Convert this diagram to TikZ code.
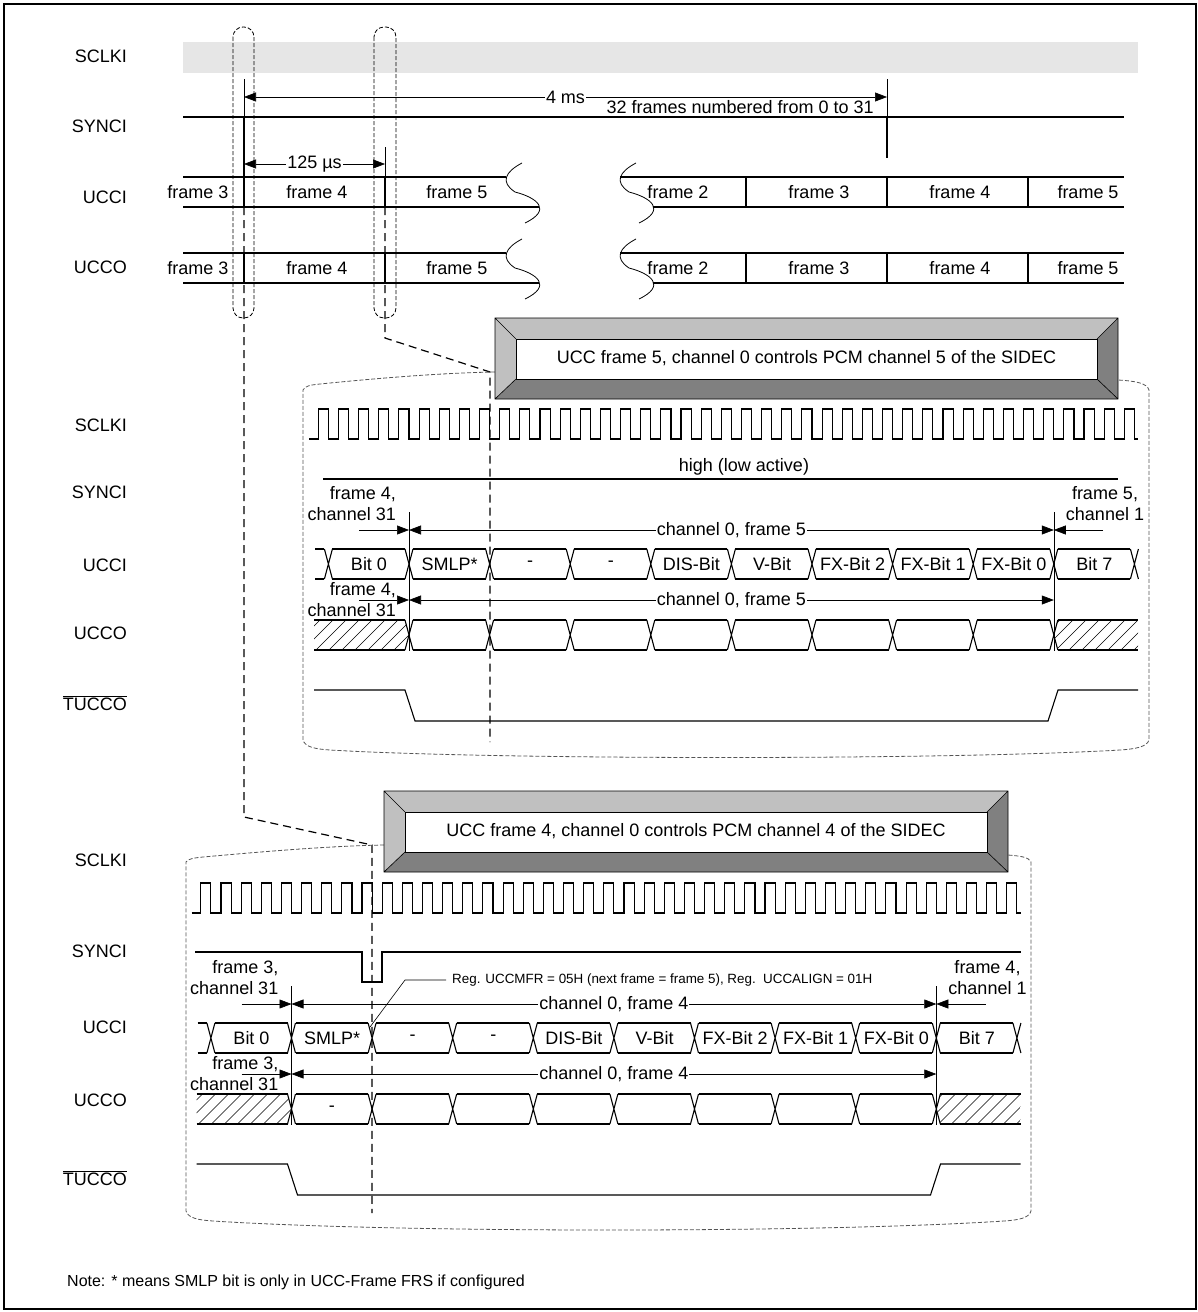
\documentclass[tikz,border=0pt]{standalone}
\usepackage{fontspec}
\setmainfont{Liberation Sans}
\usetikzlibrary{arrows.meta}
\newcommand\labfont{\fontsize{18}{21}\selectfont}
\newcommand\regfont{\fontsize{13.4}{15}\selectfont}
\newcommand\notefont{\fontsize{16}{19}\selectfont}
\definecolor{bevlight}{HTML}{C0C0C0}
\definecolor{bevdark}{HTML}{808080}
\definecolor{sclkgray}{HTML}{E6E6E6}
\definecolor{outlgray}{HTML}{555555}
\tikzset{
  sig/.style={line width=1.1pt},
  dimline/.style={line width=0.6pt},
  dimarr/.style={dimline,-{Triangle[length=12pt,width=9pt]}},
  dimboth/.style={dimline,{Triangle[length=12pt,width=9pt]}-{Triangle[length=12pt,width=9pt]}},
  conn/.style={line width=1.2pt,dash pattern=on 8pt off 5pt},
  outl/.style={line width=0.8pt,outlgray,dash pattern=on 4pt off 2pt},
  oval/.style={line width=0.8pt,dash pattern=on 4pt off 2pt,rounded corners=10pt},
  siglabel/.style={anchor=east},
  brk/.pic={\draw[line width=0.8pt] (0,0) .. controls (-17,9) and (-22,19) .. (-7,29) .. controls (16,35) and (30,47) .. (3,60);}
}
% bevelled caption box: name, left, top, right, bottom, text
\newcommand\bevelbox[6]{%
  \fill[bevlight] (#2,#3) -- (#4,#3) -- ({#4-21},{#3+21}) -- ({#2+21},{#3+21}) -- ({#2+21},{#5-20}) -- (#2,#5) -- cycle;
  \fill[bevdark] (#2,#5) -- ({#2+21},{#5-20}) -- ({#4-21},{#5-20}) -- ({#4-21},{#3+21}) -- (#4,#3) -- (#4,#5) -- cycle;
  \draw[dimline,fill=white] ({#2+21},{#3+21}) rectangle ({#4-21},{#5-20});
  \draw[dimline] (#2,#3) rectangle (#4,#5)
    (#2,#3) -- ++(21,21) (#4,#3) -- ++(-21,21) (#2,#5) -- ++(21,-20) (#4,#5) -- ++(-21,-20);
  \node (#1) at ({(#2+#4)/2},{(#3+#5)/2}) {#6};
}
\begin{document}
\begin{tikzpicture}[x=1pt,y=-1pt,every node/.style={font=\labfont,inner sep=1pt}]
\useasboundingbox (0,0) rectangle (1198,1312);
\draw[line width=1.3pt] (4,4) rectangle (1196,1309);

% signal names
\foreach \nm/\yy [count=\i] in {SCLKI/56,SYNCI/126,UCCI/197,UCCO/267,SCLKI/425,SYNCI/492,UCCI/565,UCCO/633,SCLKI/860,SYNCI/951,UCCI/1027,UCCO/1100}
  \node[siglabel] (name\i) at (128,\yy) {\nm};
\node[siglabel] (tuccoa) at (128,703) {$\overline{\mbox{TUCCO}}$};
\node[siglabel] (tuccob) at (128,1178) {$\overline{\mbox{TUCCO}}$};

% overview of the multiframe
\fill[sclkgray] (183,42) rectangle (1138,73);
\draw[oval] (233,27) rectangle (254,318);
\draw[oval] (374,27) rectangle (396,318);
\draw[sig] (183,117) -- (1124,117);
\draw[dimline] (244,79) -- (244,117) (887,79) -- (887,117) (385,147) -- (385,177);
\draw[sig] (244,117) -- (244,207) (887,117) -- (887,158);
\draw[dimboth] (244,97) -- (887,97) node[midway,fill=white] (tms) {4 ms};
\node[anchor=east,inner sep=0pt] (nfr) at (874,107) {32 frames numbered from 0 to 31};
\draw[dimboth] (244,164) -- (385,164) node[midway,fill=white] (tus) {125 µs};
\foreach \yt in {177,253} {
  \draw[sig] (183,\yt) -- (506,\yt) (183,{\yt+30}) -- (539,{\yt+30});
  \draw[sig] (620,\yt) -- (1124,\yt) (653,{\yt+30}) -- (1124,{\yt+30});
  \foreach \xx in {244,385,746,887,1028} \draw[sig] (\xx,\yt) -- (\xx,{\yt+30});
  \pic at (522,{\yt-14}) {brk};
  \pic at (636,{\yt-14}) {brk};
}
\foreach \xx/\fr in {198/3,317/4,457/5,678/2,819/3,960/4,1088/5} {
  \node (fi\xx) at (\xx,192) {frame \fr};
  \node (fo\xx) at (\xx,268) {frame \fr};
}

% zoom connectors and outlines
\draw[conn] (244,207) -- (244,817) -- (372,845) -- (372,1213);
\draw[conn] (385,207) -- (385,338) -- (490,372) -- (490,742);
\draw[outl] (495,372) .. controls (440,373) and (380,378) .. (320,384) .. controls (310,385) and (305,386) .. (303,390) -- (303,740) .. controls (305,747) and (315,749) .. (330,750) .. controls (500,760) and (950,760) .. (1120,750) .. controls (1135,749) and (1147,747) .. (1149,740) -- (1149,390) .. controls (1147,383) and (1135,381) .. (1118,380);
\draw[outl] (384,845) .. controls (330,846) and (270,851) .. (203,857) .. controls (193,858) and (188,859) .. (186,862) -- (186,1211) .. controls (188,1218) and (198,1220) .. (213,1221) .. controls (400,1233) and (820,1233) .. (1004,1221) .. controls (1019,1220) and (1029,1218) .. (1031,1211) -- (1031,862) .. controls (1029,857) and (1020,856) .. (1008,855);
\bevelbox{boxa}{495}{318}{1118}{399}{UCC frame 5, channel 0 controls PCM channel 5 of the SIDEC}
\bevelbox{boxb}{384}{791}{1008}{872}{UCC frame 4, channel 0 controls PCM channel 4 of the SIDEC}

% the two channel 0 details
\foreach \sx/\sy/\fa/\fb/\sn in {0/0/4/5/a,-117.5/474/3/4/b} {
\begin{scope}[shift={(\sx,\sy)}]
  \draw[sig] (309,439) \foreach \k in {0,...,40} { -- ({318.33+20.15*\k},439) -- ++(0,-30) -- ++(10.075,0) -- ++(0,30) } -- (1138,439);
  % UCCI
  \foreach \k in {0,...,10} \draw[sig] ({324.4+80.6*\k},549) -- ++(8,30) ({324.4+80.6*\k},579) -- ++(8,-30);
  \foreach \k in {0,...,9} \draw[sig] ({332.4+80.6*\k},549) -- ++(72.6,0) ({332.4+80.6*\k},579) -- ++(72.6,0);
  \draw[sig] (315,549) -- (324.4,549) (315,579) -- (324.4,579);
  \foreach \t [count=\k from 0] in {Bit 0,SMLP*,-,-,DIS-Bit,V-Bit,FX-Bit 2,FX-Bit 1,FX-Bit 0,Bit 7}
    \node (bit\sn\k) at ({369+80.6*\k},564) {\t};
  % UCCO
  \foreach \k in {1,...,9} \draw[sig] ({324.4+80.6*\k},620) -- ++(8,30) ({324.4+80.6*\k},650) -- ++(8,-30);
  \foreach \k in {1,...,8} \draw[sig] ({332.4+80.6*\k},620) -- ++(72.6,0) ({332.4+80.6*\k},650) -- ++(72.6,0);
  \draw[sig] (314,620) -- (405,620) (314,650) -- (405,650) (1057.8,620) -- (1138,620) (1057.8,650) -- (1138,650);
  \begin{scope}
    \clip (314,620) -- (405,620) -- (409,635) -- (405,650) -- (314,650) -- cycle;
    \foreach \i in {0,...,9} \draw[dimline] ({290+13*\i},650) -- ++(40,-40);
  \end{scope}
  \begin{scope}
    \clip (1057.8,620) -- (1138,620) -- (1138,650) -- (1057.8,650) -- (1053.8,635) -- cycle;
    \foreach \i in {0,...,8} \draw[dimline] ({1030+13*\i},650) -- ++(40,-40);
  \end{scope}
  % TUCCO
  \draw[sig] (314,690) -- (405,690) -- (415,721) -- (1048,721) -- (1058,690) -- (1138,690);
  % channel marks
  \draw[dimline] (409,512) -- (409,651) (1053.8,512) -- (1053.8,651);
  \node[anchor=east,align=right] (fl\sn) at (397,504) {frame \fa,\\channel 31};
  \node[align=center] (fr\sn) at (1105,504) {frame \fb,\\channel 1};
  \node[anchor=east,align=right] (gl\sn) at (397,600) {frame \fa,\\channel 31};
  \draw[dimarr] (359,530) -- (409,530);
  \draw[dimarr] (1103,530) -- (1053.8,530);
  \draw[dimboth] (409,530) -- (1053.8,530) node[midway,fill=white] (ci\sn) {channel 0, frame \fb};
  \draw[dimarr] (359,600) -- (409,600);
  \draw[dimboth] (409,600) -- (1053.8,600) node[midway,fill=white] (co\sn) {channel 0, frame \fb};
\end{scope}
}

% what differs between them
\draw[sig] (323,479) -- (1118,479);
\node (hla) at (744,467) {high (low active)};
\draw[sig] (195,952) -- (362,952) -- (362,982) -- (382,982) -- (382,952) -- (1021,952);
\node (dashb) at (331.8,1109) {-};
\node[font=\regfont,anchor=west,inner sep=0pt] (reg) at (452,980) {Reg. UCCMFR = 05H (next frame = frame 5), Reg.\ \ UCCALIGN = 01H};
\draw[dimline] ([xshift=-6pt]reg.west) -- (405,980) -- (370,1027);

\node[font=\notefont,anchor=west] (note) at (66,1282) {Note: * means SMLP bit is only in UCC-Frame FRS if configured};
\end{tikzpicture}
\end{document}
